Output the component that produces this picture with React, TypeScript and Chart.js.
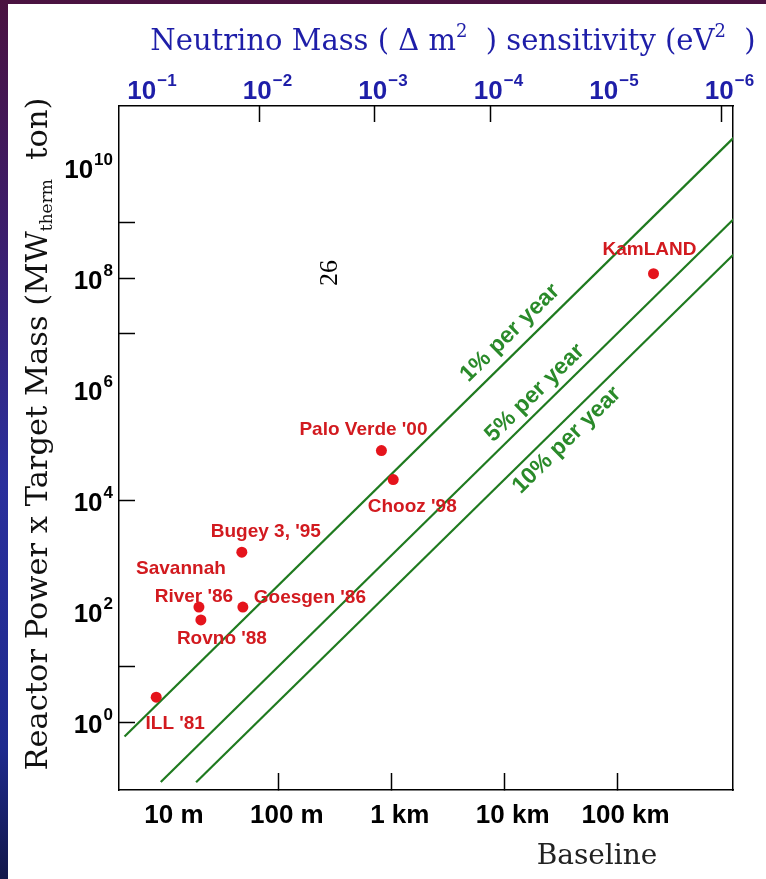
import React, { useEffect, useRef } from 'react';
import { Chart, registerables } from 'chart.js';

Chart.register(...registerables);

// ---- Experiments (baseline in metres, reactor power x target mass in MW_therm ton)
const expNames = ["ILL '81", 'Savannah River', "Rovno '88", "Goesgen '86", "Bugey 3, '95", "Palo Verde '00", "Chooz '98", 'KamLAND'];
const expBaseline = [8.2, 19.6, 20.4, 48, 47, 810, 1030, 208000];
const expPowerMass = [2.8, 118, 69, 118, 1150, 78000, 23400, 1.2e8];

// ---- Sensitivity lines (straight in log-log)
const lineNames = ['1% per year', '5% per year', '10% per year'];
const lineStartX = [4.3, 9.0, 18.5];
const lineStartY = [0.55, 0.083, 0.082];
const lineEndX = [1.1e6, 1.1e6, 1.1e6];
const lineEndY = [3.6e10, 1.23e9, 2.85e8];
const lineLabelX = [11150, 18540, 35560];
const lineLabelY = [1.02e7, 8.47e5, 1.2e5];

// ---- Axes
const baselineTicks = [10, 100, 1000, 10000, 100000];
const baselineLabels = ['10 m', '100 m', '1 km', '10 km', '100 km'];
const baselineMarks = [false, true, true, true, true];

const massTicks = [1e-1, 1e-2, 1e-3, 1e-4, 1e-5, 1e-6];
const massExponents = ['−1', '−2', '−3', '−4', '−5', '−6'];
const massMarks = [false, true, true, true, false, true];

const powerTicks = [1e0, 1e1, 1e2, 1e3, 1e4, 1e5, 1e6, 1e7, 1e8, 1e9, 1e10];
const powerExponents = ['0', '', '2', '', '4', '', '6', '', '8', '', '10'];
const powerMarks = [true, true, false, false, true, false, false, true, true, true, false];

// ---- label placement (pixel offsets from each dot)
const expLabelParts = [
  { i: 0, text: "ILL '81", dx: 19, dy: 27 },
  { i: 1, text: 'Savannah', dx: -18, dy: -38 },
  { i: 1, text: "River '86", dx: -5, dy: -10 },
  { i: 2, text: "Rovno '88", dx: 21, dy: 19 },
  { i: 3, text: "Goesgen '86", dx: 67, dy: -9 },
  { i: 4, text: "Bugey 3, '95", dx: 24, dy: -20 },
  { i: 5, text: "Palo Verde '00", dx: -18, dy: -21 },
  { i: 6, text: "Chooz '98", dx: 19, dy: 27 },
  { i: 7, text: 'KamLAND', dx: -4, dy: -24 },
];

const W = 758;
const H = 875;
const GREEN = '#1f7a1f';
const GREEN_TEXT = '#2a8a2a';
const RED = '#e5141c';
const RED_TEXT = '#d21a1f';
const BLUE = '#1e1ea8';
const SANS = '"Liberation Sans", Arial, sans-serif';
const SERIF = '"DejaVu Serif", serif';
const TICK_FONT = `bold 26px ${SANS}`;
const SUP_FONT = `bold 17px ${SANS}`;

// draws base + superscript; anchor 'center' or 'right' at x
function drawPow(ctx: CanvasRenderingContext2D, base: string, exp: string, x: number, y: number, anchor: string, supDy: number) {
  ctx.font = TICK_FONT;
  const wb = ctx.measureText(base).width;
  ctx.font = SUP_FONT;
  const we = ctx.measureText(exp).width + 1;
  const total = wb + we;
  const left = anchor === 'right' ? x - total : x - total / 2;
  ctx.textAlign = 'left';
  ctx.textBaseline = 'middle';
  ctx.font = TICK_FONT;
  ctx.fillText(base, left, y);
  ctx.font = SUP_FONT;
  ctx.fillText(exp, left + wb + 1, y + supDy);
}

export default function App() {
  const ref = useRef<HTMLCanvasElement>(null);

  useEffect(() => {
    const canvas = ref.current;
    if (!canvas) return;

    const textPlugin = {
      id: 'texts',
      afterDraw(chart: any) {
        const { ctx, scales } = chart;
        const xs = scales.x;
        const ys = scales.y;
        const xt = scales.xTop;
        ctx.save();

        // y tick labels
        ctx.fillStyle = '#000';
        powerTicks.forEach((v, i) => {
          if (!powerExponents[i]) return;
          const py = ys.getPixelForValue(v);
          drawPow(ctx, '10', powerExponents[i], ys.right - 6, py + 4, 'right', -11);
        });
        // top tick labels
        ctx.fillStyle = BLUE;
        massTicks.forEach((v, i) => {
          const px = xt.getPixelForValue(v);
          drawPow(ctx, '10', massExponents[i], px + 8, xt.bottom - 14, 'center', -11);
        });

        ctx.textAlign = 'center';
        ctx.textBaseline = 'middle';
        // experiment labels
        ctx.fillStyle = RED_TEXT;
        ctx.font = `bold 19px ${SANS}`;
        expLabelParts.forEach((p) => {
          const px = xs.getPixelForValue(expBaseline[p.i]);
          const py = ys.getPixelForValue(expPowerMass[p.i]);
          ctx.fillText(p.text, px + p.dx, py + p.dy);
        });
        // line labels, parallel to their lines
        ctx.fillStyle = GREEN_TEXT;
        ctx.font = `bold 23px ${SANS}`;
        lineNames.forEach((name, j) => {
          const x1 = xs.getPixelForValue(lineStartX[j]);
          const y1 = ys.getPixelForValue(lineStartY[j]);
          const x2 = xs.getPixelForValue(lineEndX[j]);
          const y2 = ys.getPixelForValue(lineEndY[j]);
          const ang = Math.atan2(y2 - y1, x2 - x1);
          const cx = xs.getPixelForValue(lineLabelX[j]);
          const cy = ys.getPixelForValue(lineLabelY[j]);
          ctx.save();
          ctx.translate(cx, cy);
          ctx.rotate(ang);
          ctx.fillText(name, 0, 0);
          ctx.restore();
        });

        // top title with superscripts
        const titleParts = [
          { t: 'Neutrino Mass ( Δ m', sup: false },
          { t: '2', sup: true },
          { t: '  ) sensitivity (eV', sup: false },
          { t: '2', sup: true },
          { t: '  )', sup: false },
        ];
        const tf = `29px ${SERIF}`;
        const sf = `18px ${SERIF}`;
        const tw = titleParts.map((p) => {
          ctx.font = p.sup ? sf : tf;
          return ctx.measureText(p.t).width;
        });
        let tx = 453 - 8 - tw.reduce((a, b) => a + b, 0) / 2;
        ctx.fillStyle = BLUE;
        ctx.textAlign = 'left';
        titleParts.forEach((p, k) => {
          ctx.font = p.sup ? sf : tf;
          ctx.fillText(p.t, tx, p.sup ? 28 : 38);
          tx += tw[k];
        });

        // bottom title
        ctx.textAlign = 'center';
        ctx.fillStyle = '#222';
        ctx.font = `28px ${SERIF}`;
        ctx.fillText('Baseline', 589, 853);

        // page number
        ctx.save();
        ctx.translate(322, 269);
        ctx.rotate(-Math.PI / 2);
        ctx.fillStyle = '#000';
        ctx.font = '26px "Liberation Serif", serif';
        ctx.fillText('26', 0, 0);
        ctx.restore();

        // y title with subscript
        const parts = [
          { t: 'Reactor Power x Target Mass (MW', f: `30.5px ${SERIF}`, dy: 0 },
          { t: 'therm', f: `17px ${SERIF}`, dy: 9 },
          { t: '  ton)', f: `30.5px ${SERIF}`, dy: 0 },
        ];
        const widths = parts.map((p) => {
          ctx.font = p.f;
          return ctx.measureText(p.t).width;
        });
        const total = widths.reduce((a, b) => a + b, 0);
        ctx.save();
        ctx.translate(31, 430);
        ctx.rotate(-Math.PI / 2);
        ctx.textAlign = 'left';
        ctx.fillStyle = '#111';
        let x = -total / 2;
        parts.forEach((p, k) => {
          ctx.font = p.f;
          ctx.fillText(p.t, x, p.dy);
          x += widths[k];
        });
        ctx.restore();
        ctx.restore();
      },
    };

    const lineDatasets = lineNames.map((name, j) => ({
      label: name,
      data: [
        { x: lineStartX[j], y: lineStartY[j] },
        { x: lineEndX[j], y: lineEndY[j] },
      ],
      showLine: true,
      borderColor: GREEN,
      borderWidth: 2.2,
      pointRadius: 0,
      xAxisID: 'x',
      yAxisID: 'y',
    }));

    const chart = new Chart(canvas, {
      type: 'scatter',
      data: {
        datasets: [
          {
            label: 'Experiments',
            data: expBaseline.map((b, i) => ({ x: b, y: expPowerMass[i] })),
            backgroundColor: RED,
            borderWidth: 0,
            pointRadius: 5.5,
            xAxisID: 'x',
            yAxisID: 'y',
          } as any,
          ...lineDatasets,
        ],
      },
      options: {
        animation: false,
        responsive: false,
        devicePixelRatio: 1,
        layout: { padding: { left: 0, top: 0, right: 33, bottom: 0 }, autoPadding: false },
        plugins: { legend: { display: false }, tooltip: { enabled: false } },
        scales: {
          x: {
            type: 'logarithmic',
            position: 'bottom',
            min: 3.84,
            max: 1.052e6,
            afterBuildTicks: (s: any) => {
              s.ticks = baselineTicks.map((v) => ({ value: v }));
            },
            afterFit: (s: any) => {
              s.height = 89;
            },
            ticks: {
              autoSkip: false,
              maxRotation: 0,
              minRotation: 0,
              padding: 27,
              labelOffset: 8,
              color: '#000',
              font: { family: SANS, size: 26, weight: 'bold' },
              callback: (_v: any, i: number) => baselineLabels[i],
            },
            grid: {
              drawOnChartArea: false,
              tickLength: -17,
              tickWidth: 1.5,
              tickColor: (c: any) => (baselineMarks[c.index] ? '#000' : 'rgba(0,0,0,0)'),
            },
            border: { display: true, color: '#000', width: 1.5 },
          },
          xTop: {
            type: 'logarithmic',
            axis: 'x',
            position: 'top',
            reverse: true,
            min: 7.94e-7,
            max: 0.1644,
            afterBuildTicks: (s: any) => {
              s.ticks = massTicks.map((v) => ({ value: v }));
            },
            afterFit: (s: any) => {
              s.height = 102;
            },
            ticks: { display: false },
            grid: {
              drawOnChartArea: false,
              tickLength: -16,
              tickWidth: 1.5,
              tickColor: (c: any) => (massMarks[c.index] ? '#000' : 'rgba(0,0,0,0)'),
            },
            border: { display: true, color: '#000', width: 1.5 },
          },
          y: {
            type: 'logarithmic',
            position: 'left',
            min: 0.0596,
            max: 1.26e11,
            afterBuildTicks: (s: any) => {
              s.ticks = powerTicks.map((v) => ({ value: v }));
            },
            afterFit: (s: any) => {
              s.width = 111;
            },
            ticks: { display: false },
            grid: {
              drawOnChartArea: false,
              tickLength: -16,
              tickWidth: 1.5,
              tickColor: (c: any) => (powerMarks[c.index] ? '#000' : 'rgba(0,0,0,0)'),
            },
            border: { display: true, color: '#000', width: 1.5 },
          },
          yRight: {
            type: 'linear',
            axis: 'y',
            position: 'right',
            display: true,
            afterFit: (s: any) => {
              s.width = 0;
            },
            ticks: { display: false },
            grid: { drawOnChartArea: false, drawTicks: false },
            border: { display: true, color: '#000', width: 1.5 },
          },
        },
      } as any,
      plugins: [textPlugin],
    });

    return () => chart.destroy();
  }, []);

  return (
    <div
      style={{
        position: 'fixed',
        inset: 0,
        background:
          'linear-gradient(180deg, #4a1240 0%, #3d1d6a 25%, #2a2f9c 55%, #1e2a8e 85%, #13184a 100%)',
      }}
    >
      <canvas
        ref={ref}
        width={W}
        height={H}
        style={{ position: 'absolute', left: 8, top: 4, width: W, height: H, background: '#fff' }}
      />
    </div>
  );
}
